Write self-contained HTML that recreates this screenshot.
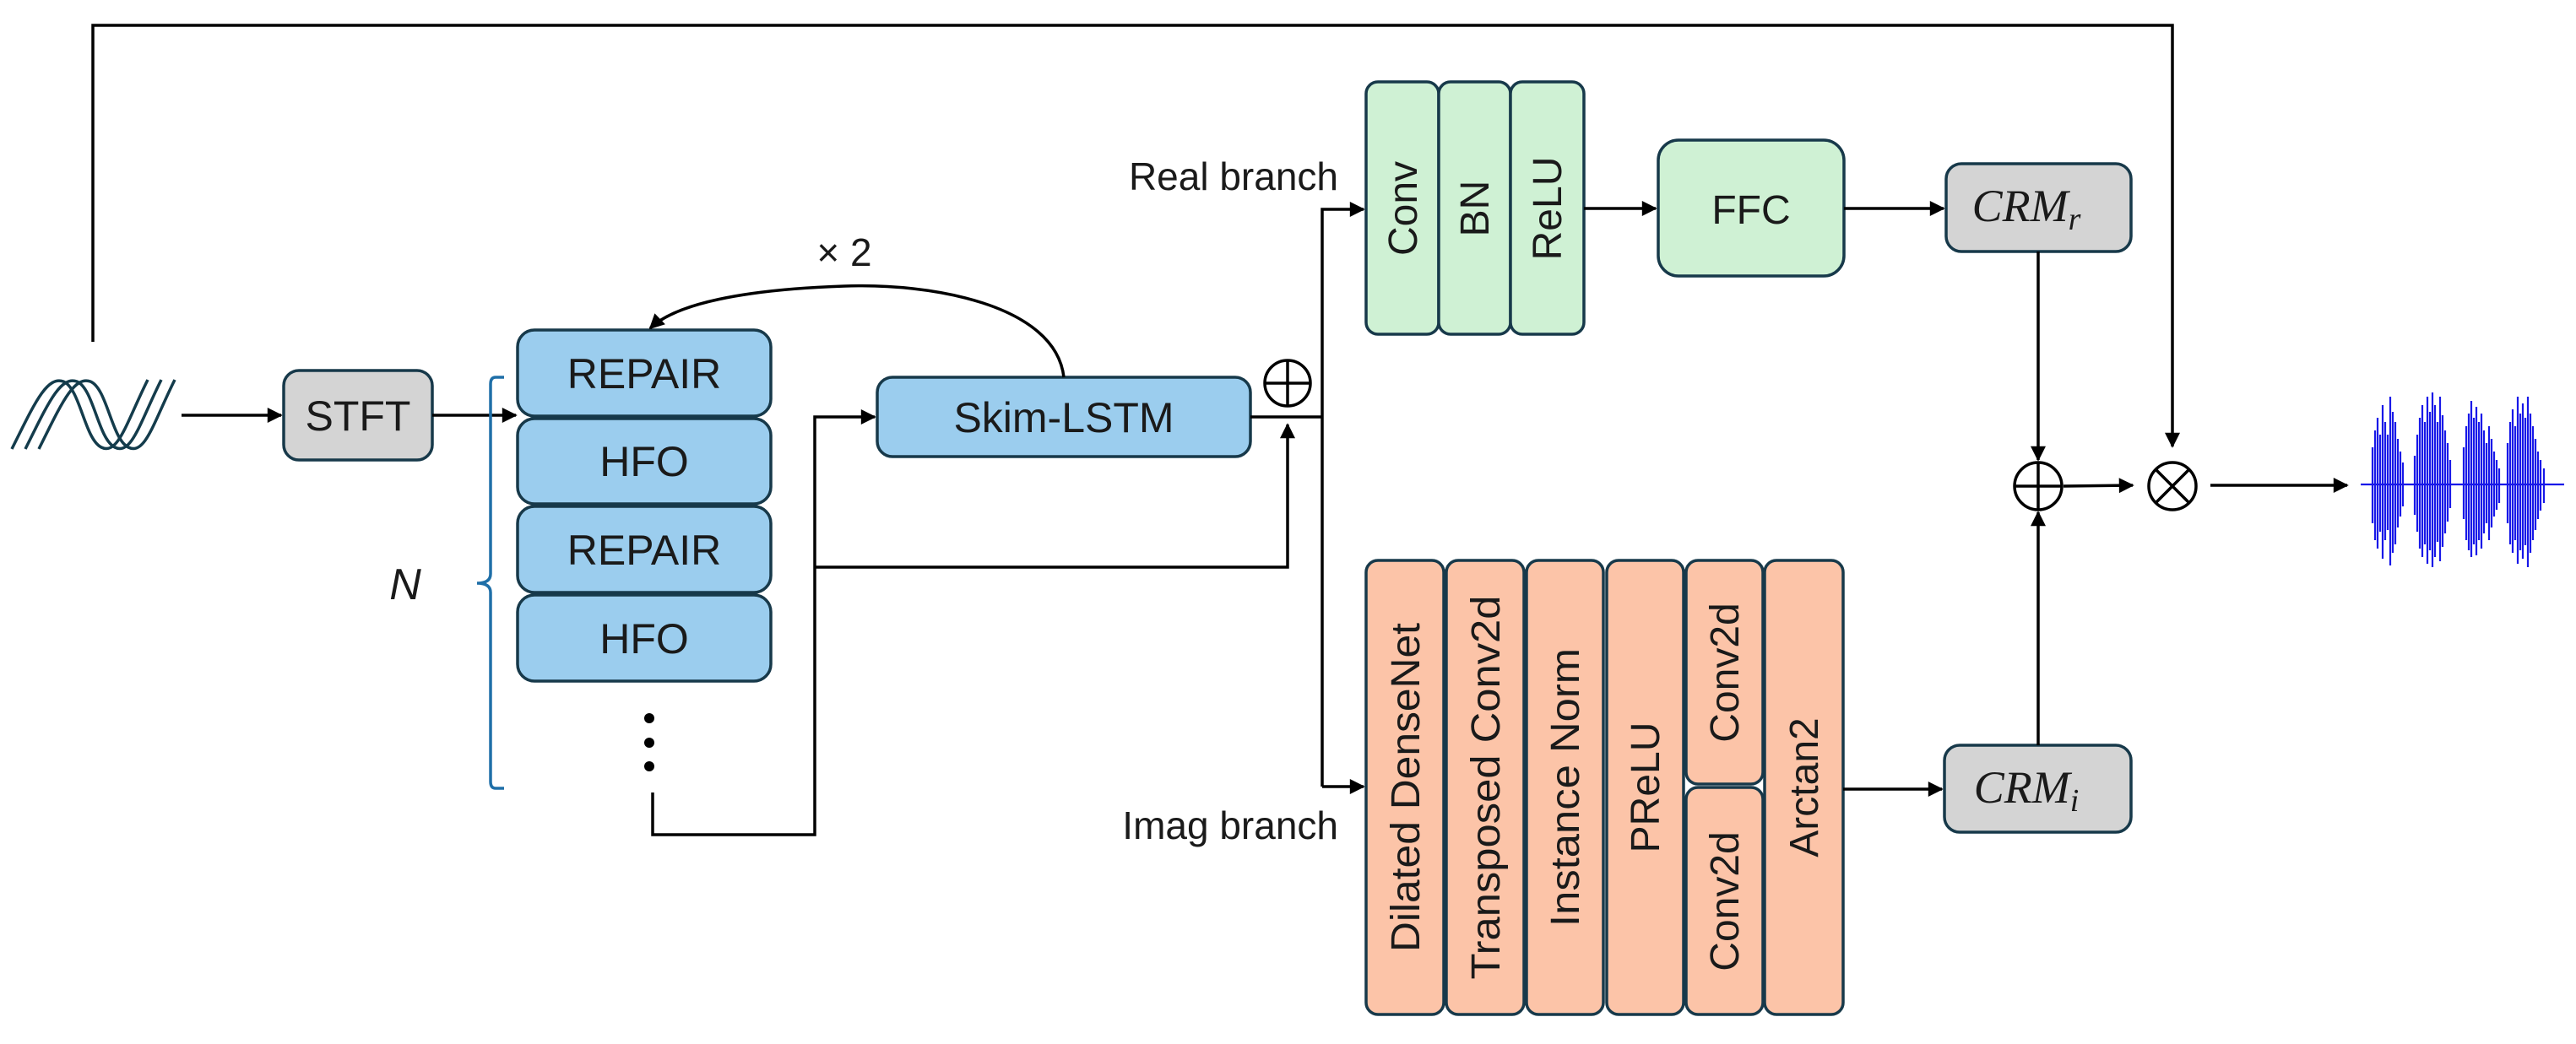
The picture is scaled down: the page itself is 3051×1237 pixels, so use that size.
<!DOCTYPE html>
<html><head><meta charset="utf-8"><style>
html,body{margin:0;padding:0;background:#fff;}
svg{display:block;}
text{font-family:"Liberation Sans",sans-serif;fill:#1a1a1a;}
.b{stroke:#17394a;stroke-width:3.5;}
.l{stroke:#000;stroke-width:3.5;fill:none;}
.crm{font-family:"Liberation Serif",serif;font-style:italic;font-size:54px;}
</style></head><body>
<svg width="3051" height="1237" viewBox="0 0 3051 1237" xmlns="http://www.w3.org/2000/svg">
<defs>
<marker id="ah" viewBox="0 0 10 10" refX="9" refY="5" markerWidth="22" markerHeight="18" markerUnits="userSpaceOnUse" orient="auto">
<path d="M0,0 L10,5 L0,10 z" fill="#000"/>
</marker>
</defs>

<path class="l" d="M110,405 L110,30 L2573,30 L2573,529" marker-end="url(#ah)"/>

<g fill="none" stroke="#143c4c" stroke-width="3.5">
<path d="M14,532 C40,480 55,445 75,452 C95,460 100,520 120,530 C140,540 150,500 175,450"/>
<path d="M30,532 C56,480 71,445 91,452 C111,460 116,520 136,530 C156,540 166,500 191,450"/>
<path d="M46,532 C72,480 87,445 107,452 C127,460 132,520 152,530 C172,540 182,500 207,450"/>
</g>

<path class="l" d="M215,492 L333,492" marker-end="url(#ah)"/>
<rect x="336" y="439" width="176" height="106" rx="18" fill="#d4d4d4" class="b"/>
<text x="424" y="510" font-size="50" text-anchor="middle">STFT</text>
<path class="l" d="M512,492 L611,492" marker-end="url(#ah)"/>

<g fill="#9bcdee" class="b">
<rect x="613" y="391" width="300" height="102" rx="20"/>
<rect x="613" y="496" width="300" height="101" rx="20"/>
<rect x="613" y="600" width="300" height="102" rx="20"/>
<rect x="613" y="705" width="300" height="102" rx="20"/>
</g>
<g font-size="50" text-anchor="middle">
<text x="763" y="460">REPAIR</text>
<text x="763" y="564">HFO</text>
<text x="763" y="669">REPAIR</text>
<text x="763" y="774">HFO</text>
</g>
<circle cx="769" cy="851" r="6" fill="#000"/>
<circle cx="769" cy="880" r="6" fill="#000"/>
<circle cx="769" cy="908" r="6" fill="#000"/>

<path d="M597,447 L587,447 Q581,447 581,455 L581,680 Q581,691 565,691 Q581,691 581,702 L581,926 Q581,934 587,934 L597,934" fill="none" stroke="#1f6fa8" stroke-width="3.5"/>
<text x="480" y="710" font-size="52" font-style="italic" text-anchor="middle">N</text>

<path class="l" d="M773,939 L773,989 L965,989 L965,494 L1036,494" marker-end="url(#ah)"/>
<path class="l" d="M965,672 L1525,672 L1525,503" marker-end="url(#ah)"/>

<rect x="1039" y="447" width="442" height="94" rx="18" fill="#9bcdee" class="b"/>
<text x="1260" y="512" font-size="50" text-anchor="middle">Skim-LSTM</text>
<path class="l" d="M1260,447 C1250,360 1100,335 1000,339 C880,343 800,360 770,389" marker-end="url(#ah)"/>
<text x="1000" y="315" font-size="46" text-anchor="middle">× 2</text>

<g class="l" stroke-width="3">
<circle cx="1525" cy="454" r="27"/>
<path d="M1498,454 L1552,454 M1525,427 L1525,481"/>
</g>

<path class="l" d="M1481,494 L1566,494"/>
<path class="l" d="M1566,932 L1566,248 L1615,248" marker-end="url(#ah)"/>
<path class="l" d="M1566,932 L1615,932" marker-end="url(#ah)"/>
<text x="1585" y="225" font-size="46" text-anchor="end">Real branch</text>
<text x="1585" y="994" font-size="46" text-anchor="end">Imag branch</text>

<g fill="#cff1d4" class="b">
<rect x="1618" y="97" width="86" height="299" rx="14"/>
<rect x="1704" y="97" width="85" height="299" rx="14"/>
<rect x="1789" y="97" width="87" height="299" rx="14"/>
<rect x="1964" y="166" width="220" height="161" rx="24"/>
</g>
<g font-size="48" text-anchor="middle">
<text transform="translate(1678,247) rotate(-90)">Conv</text>
<text transform="translate(1763,247) rotate(-90)">BN</text>
<text transform="translate(1849,247) rotate(-90)">ReLU</text>
<text x="2074" y="265">FFC</text>
</g>
<path class="l" d="M1876,247 L1961,247" marker-end="url(#ah)"/>
<path class="l" d="M2184,247 L2302,247" marker-end="url(#ah)"/>

<rect x="2305" y="194" width="219" height="104" rx="18" fill="#d4d4d4" class="b"/>
<text x="2400" y="262" class="crm" text-anchor="middle">CRM<tspan font-size="38" dy="10">r</tspan></text>
<path class="l" d="M2414,298 L2414,545" marker-end="url(#ah)"/>

<g fill="#fcc4a8" class="b">
<rect x="1618" y="664" width="92" height="538" rx="14"/>
<rect x="1713" y="664" width="92" height="538" rx="14"/>
<rect x="1808" y="664" width="91" height="538" rx="14"/>
<rect x="1903" y="664" width="91" height="538" rx="14"/>
<rect x="1997" y="664" width="91" height="265" rx="14"/>
<rect x="1997" y="933" width="91" height="269" rx="14"/>
<rect x="2090" y="664" width="93" height="538" rx="14"/>
</g>
<g font-size="48" text-anchor="middle">
<text transform="translate(1681,933) rotate(-90)" textLength="390" lengthAdjust="spacingAndGlyphs">Dilated DenseNet</text>
<text transform="translate(1776,933) rotate(-90)" textLength="455" lengthAdjust="spacingAndGlyphs">Transposed Conv2d</text>
<text transform="translate(1870,933) rotate(-90)" textLength="330" lengthAdjust="spacingAndGlyphs">Instance Norm</text>
<text transform="translate(1965,933) rotate(-90)">PReLU</text>
<text transform="translate(2059,797) rotate(-90)">Conv2d</text>
<text transform="translate(2059,1068) rotate(-90)">Conv2d</text>
<text transform="translate(2153,933) rotate(-90)">Arctan2</text>
</g>
<path class="l" d="M2183,935 L2300,935" marker-end="url(#ah)"/>

<rect x="2303" y="883" width="221" height="103" rx="18" fill="#d4d4d4" class="b"/>
<text x="2400" y="951" class="crm" text-anchor="middle">CRM<tspan font-size="38" dy="10">i</tspan></text>
<path class="l" d="M2414,883 L2414,607" marker-end="url(#ah)"/>

<g class="l" stroke-width="3">
<circle cx="2414" cy="576" r="28"/>
<path d="M2386,576 L2442,576 M2414,548 L2414,604"/>
<circle cx="2573" cy="576" r="28"/>
<path d="M2553,556 L2593,596 M2593,556 L2553,596"/>
</g>
<path class="l" d="M2444,576 L2526,575" marker-end="url(#ah)"/>
<path class="l" d="M2618,575 L2780,575" marker-end="url(#ah)"/>

<g stroke="#1818e8" stroke-width="2.2" fill="none">
<path d="M2796,574 L3037,574"/>
<path d="M2810,530 L2810,620 M2813,510 L2813,640 M2816,495 L2816,650 M2819,515 L2819,630 M2822,480 L2822,662 M2825,500 L2825,640 M2828,515 L2828,628 M2831,470 L2831,670 M2834,488 L2834,655 M2837,500 L2837,645 M2840,520 L2840,625 M2843,535 L2843,612 M2846,548 L2846,600
M2860,540 L2860,610 M2863,515 L2863,630 M2866,495 L2866,650 M2869,480 L2869,660 M2872,500 L2872,645 M2875,470 L2875,668 M2878,488 L2878,652 M2881,465 L2881,672 M2884,480 L2884,660 M2887,500 L2887,642 M2890,470 L2890,665 M2893,492 L2893,648 M2896,510 L2896,632 M2899,525 L2899,618 M2902,545 L2902,602
M2918,530 L2918,615 M2921,505 L2921,640 M2924,490 L2924,652 M2927,475 L2927,660 M2930,495 L2930,645 M2933,482 L2933,658 M2936,500 L2936,640 M2939,490 L2939,650 M2942,510 L2942,632 M2945,525 L2945,620 M2948,505 L2948,640 M2951,520 L2951,625 M2954,535 L2954,612 M2957,545 L2957,604 M2960,555 L2960,596
M2970,525 L2970,620 M2973,500 L2973,645 M2976,485 L2976,655 M2979,505 L2979,640 M2982,470 L2982,668 M2985,490 L2985,652 M2988,478 L2988,662 M2991,495 L2991,646 M2994,470 L2994,672 M2997,490 L2997,655 M3000,505 L3000,640 M3003,520 L3003,628 M3006,535 L3006,615 M3009,545 L3009,605 M3013,555 L3013,596"/>
</g>
</svg>
</body></html>
